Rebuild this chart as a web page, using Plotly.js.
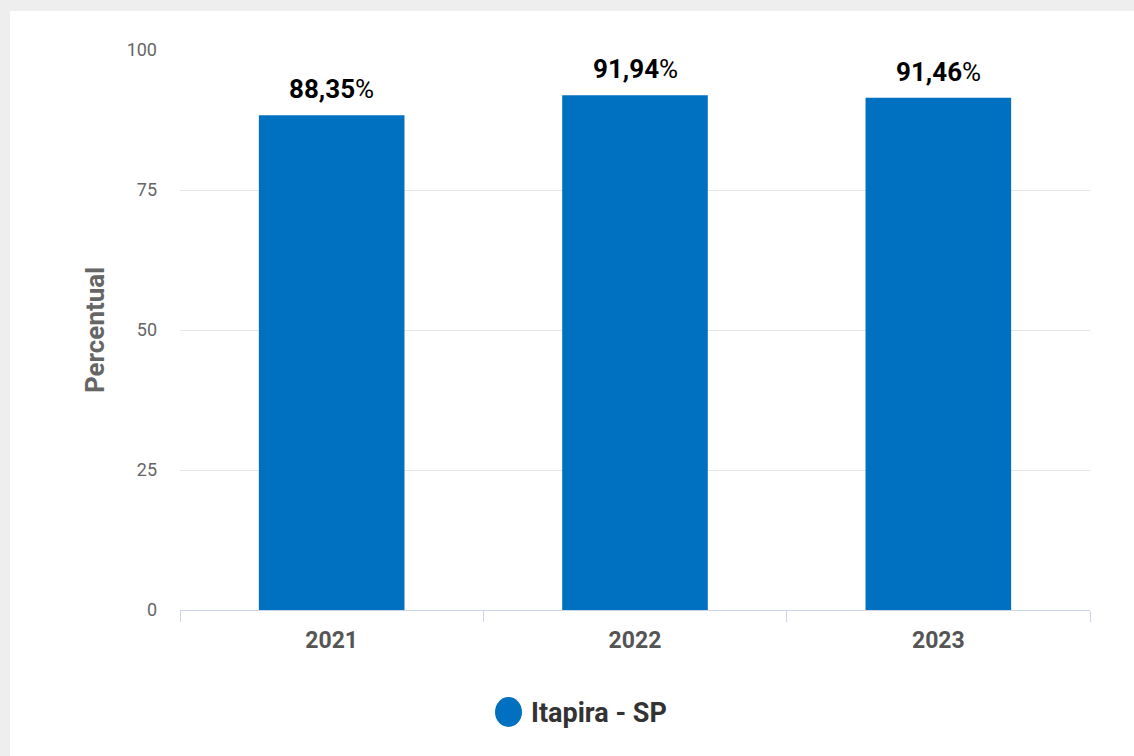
<!DOCTYPE html>
<html>
<head>
<meta charset="utf-8">
<script src="https://cdn.plot.ly/plotly-3.0.1.min.js"></script>
<style>
  html, body { margin: 0; padding: 0; background: #eeeeee; width: 1134px; height: 756px; overflow: hidden; }
  #card { position: absolute; left: 10px; top: 11px; width: 1124px; height: 745px; background: #ffffff; }
  #chart { width: 1124px; height: 745px; }
</style>
</head>
<body>
<div id="card"><div id="chart"></div></div>
<script>
const categories = ["2021", "2022", "2023"];
const values = [88.35, 91.94, 91.46];
const seriesName = "Itapira - SP";
const yTicks = [0, 25, 50, 75, 100];

const barColor = "#0070C0";
const font = "Roboto, Lato, sans-serif";

const labels = values.map(v => v.toFixed(2).replace(".", ","));

const trace = {
  type: "bar",
  x: categories,
  y: values,
  name: seriesName,
  marker: { color: barColor },
  width: 0.48,
  showlegend: false,
  hoverinfo: "x+y"
};

const annotations = categories.map((c, i) => ({
  x: i, y: values[i], xref: "x", yref: "y",
  text: "<b>" + labels[i] + "</b>%",
  showarrow: false, yanchor: "bottom", yshift: 9,
  font: { family: font, size: 26, color: "#000000" }
}));

// legend
annotations.push({
  x: (529 - 180) / 910, y: (610 - 713) / 560, xref: "paper", yref: "paper",
  xanchor: "left", yanchor: "middle", showarrow: false,
  text: "<b>" + seriesName + "</b>",
  font: { family: font, size: 27, color: "#333333" }
});

const layout = {
  width: 1124, height: 745,
  margin: { l: 170, r: 44, t: 39, b: 146 },
  paper_bgcolor: "#ffffff",
  plot_bgcolor: "#ffffff",
  font: { family: font },
  xaxis: {
    type: "category",
    range: [-0.5, 2.5],
    showgrid: false,
    showline: true, linecolor: "#ccd6eb", linewidth: 1,
    ticks: "outside", tickson: "boundaries", ticklen: 11, tickcolor: "#ccd6eb",
    tickfont: { family: font, size: 23, color: "#555555", weight: "bold" },
    tickangle: 0,
    ticklabelstandoff: 9
  },
  yaxis: {
    range: [0, 100],
    tickvals: yTicks,
    ticktext: yTicks.map(String),
    showgrid: true, gridcolor: "#e6e6e6", gridwidth: 1,
    zeroline: false, showline: false,
    tickfont: { family: font, size: 18, color: "#666666" },
    ticklabelstandoff: 22,
    title: { text: "<b>Percentual</b>", font: { family: font, size: 26, color: "#666666" }, standoff: 14 }
  },
  shapes: [{
    type: "circle", xref: "paper", yref: "paper",
    x0: (495 - 180) / 910, x1: (522 - 180) / 910,
    y0: (610 - 697) / 560, y1: (610 - 727) / 560,
    fillcolor: barColor, line: { width: 0 }
  }],
  annotations: annotations,
  bargap: 0.52
};

Plotly.newPlot("chart", [trace], layout, { displayModeBar: false, staticPlot: true });
</script>
</body>
</html>
